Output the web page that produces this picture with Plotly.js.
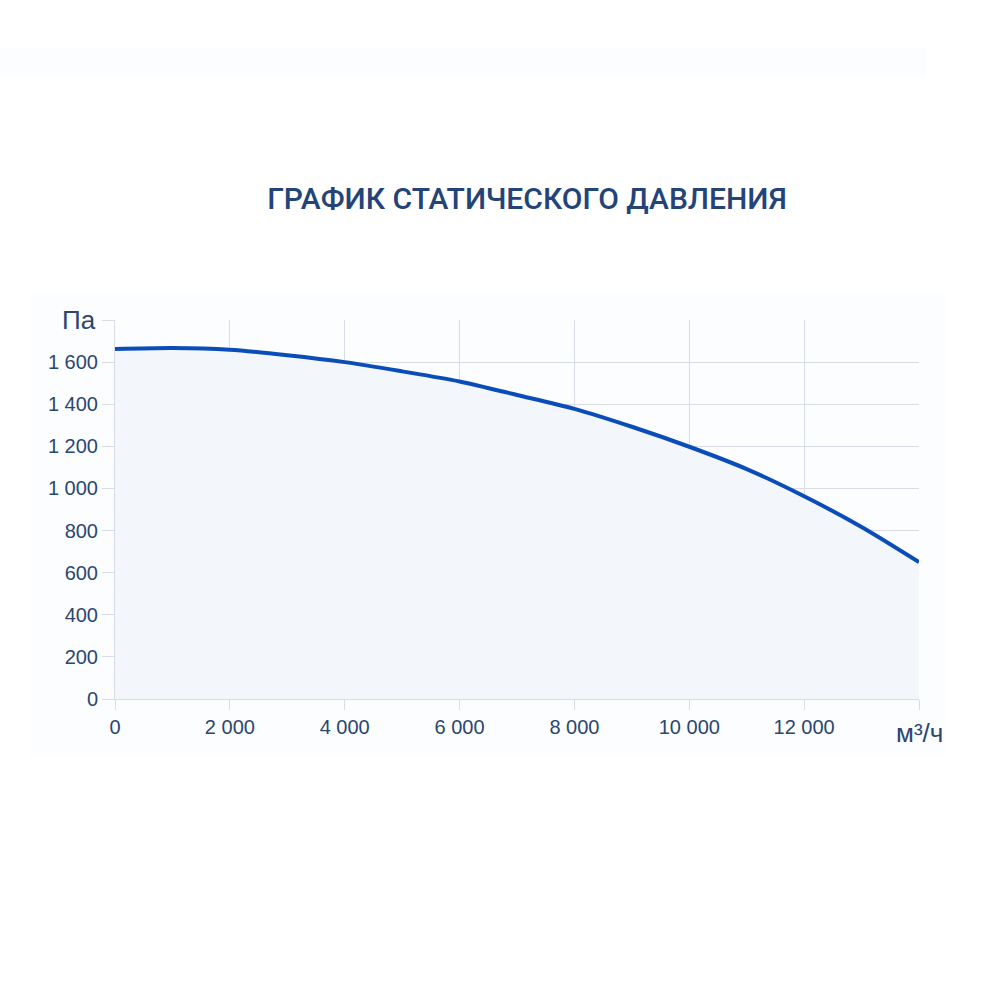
<!DOCTYPE html>
<html>
<head>
<meta charset="utf-8">
<script src="https://cdn.plot.ly/plotly-3.0.1.min.js"></script>
<style>
  html, body { margin: 0; padding: 0; background: #ffffff; }
  #figure { width: 1000px; height: 1000px; }
</style>
</head>
<body>
<div id="figure"></div>
<script>
FIGURE = document.getElementById('figure')

// airflow, m3/h
let flow = [0, 1000, 2000, 3000, 4000, 5000, 6000, 7000, 8000, 9000, 10000, 11000, 12000, 13000, 14000]
// static pressure, Pa
let pressure = [1662, 1667, 1659, 1633, 1600, 1556, 1508, 1444, 1378, 1293, 1198, 1092, 963, 817, 650]

let xTicks = [0, 2000, 4000, 6000, 8000, 10000, 12000, 14000]
let xLabels = ['0', '2 000', '4 000', '6 000', '8 000', '10 000', '12 000', '']
let yTicks = [0, 200, 400, 600, 800, 1000, 1200, 1400, 1600, 1800]
let yLabels = ['0', '200', '400', '600', '800', '1 000', '1 200', '1 400', '1 600', '']

let textColor = '#2b4670'
let gridColor = '#d8dce4'

let trace = {
    x: flow, y: pressure,
    mode: 'lines',
    type: 'scatter',
    line: {color: '#0b4db8', width: 4, shape: 'spline', smoothing: 0.8},
    fill: 'tozeroy',
    fillcolor: '#f3f6fb',
    hoverinfo: 'skip'
}

let layout = {
    width: 1000, height: 1000,
    paper_bgcolor: '#ffffff',
    plot_bgcolor: '#ffffff',
    margin: {l: 115, r: 81, t: 320, b: 301},
    showlegend: false,
    font: {family: 'Liberation Sans, Arial, sans-serif', color: textColor, size: 20},
    title: {
        text: 'ГРАФИК СТАТИЧЕСКОГО ДАВЛЕНИЯ',
        x: 0.527, xanchor: 'center', xref: 'container',
        y: 0.802, yanchor: 'middle', yref: 'container',
        font: {family: 'Roboto, sans-serif', size: 30, weight: 500, color: '#244479'}
    },
    xaxis: {
        range: [0, 14000],
        tickmode: 'array', tickvals: xTicks, ticktext: xLabels,
        ticks: 'outside', ticklen: 10, tickcolor: gridColor, tickwidth: 1,
        showgrid: true, gridcolor: gridColor, gridwidth: 1,
        zeroline: false, showline: true, linecolor: gridColor,
        tickfont: {size: 20, color: textColor},
        fixedrange: true
    },
    yaxis: {
        range: [0, 1800],
        tickmode: 'array', tickvals: yTicks, ticktext: yLabels,
        ticks: 'outside', ticklen: 12, tickcolor: gridColor, tickwidth: 1,
        showgrid: true, gridcolor: gridColor, gridwidth: 1,
        zeroline: false, showline: true, linecolor: gridColor,
        tickfont: {size: 20, color: textColor},
        fixedrange: true
    },
    shapes: [
        {type: 'rect', xref: 'paper', yref: 'paper', layer: 'below',
         x0: -0.1057, x1: 1.032, y0: -0.153, y1: 1.066,
         fillcolor: '#fcfdfe', line: {width: 0}},
        {type: 'rect', xref: 'paper', yref: 'paper', layer: 'below',
         x0: -0.143, x1: 1.009, y0: 1.641, y1: 1.718,
         fillcolor: '#fcfdfe', line: {width: 0}}
    ],
    annotations: [
        {text: 'Па', xref: 'paper', yref: 'y', x: 0, y: 1800,
         xanchor: 'right', yanchor: 'middle', xshift: -17, showarrow: false,
         font: {size: 26, color: textColor}},
        {text: 'м³/ч', xref: 'x', yref: 'paper', x: 14000, y: 0,
         xanchor: 'center', yanchor: 'middle', xshift: 0, yshift: -34, showarrow: false,
         font: {size: 26, color: textColor}}
    ]
}

Plotly.newPlot(FIGURE, [trace], layout, {displayModeBar: false, staticPlot: true});
</script>
</body>
</html>
